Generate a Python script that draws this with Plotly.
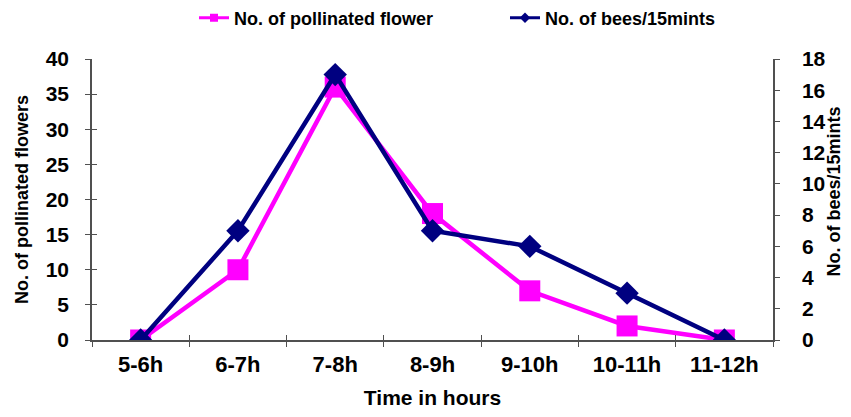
import plotly.graph_objects as go

categories = ["5-6h", "6-7h", "7-8h", "8-9h", "9-10h", "10-11h", "11-12h"]
pollinated = [0, 10, 36, 18, 7, 2, 0]
bees = [0, 7, 17, 7, 6, 3, 0]
left_ticks = [0, 5, 10, 15, 20, 25, 30, 35, 40]
right_ticks = [0, 2, 4, 6, 8, 10, 12, 14, 16, 18]

FONT = "Liberation Sans, Arial, sans-serif"
PINK = "#FF00FF"
NAVY = "#000080"
axis_col = "#505050"

# page body adds an 8px margin; keep the figure inside the window
W, H = 835, 401
L, R, T, B = 84, 70, 51, 69

fig = go.Figure()
fig.add_trace(go.Scatter(
    x=categories, y=pollinated, showlegend=False,
    mode="lines+markers", line=dict(color=PINK, width=4.5),
    marker=dict(symbol="square", size=21, color=PINK),
    xaxis="x", yaxis="y"))
fig.add_trace(go.Scatter(
    x=categories, y=bees, showlegend=False,
    mode="lines+markers", line=dict(color=NAVY, width=4.5),
    marker=dict(symbol="diamond", size=18, color=NAVY),
    xaxis="x", yaxis="y2"))
# legend entries with small markers
fig.add_trace(go.Scatter(
    x=[None], y=[None], name="No. of pollinated flower",
    mode="lines+markers", line=dict(color=PINK, width=3),
    marker=dict(symbol="square", size=8, color=PINK), yaxis="y"))
fig.add_trace(go.Scatter(
    x=[None], y=[None], name="No. of bees/15mints",
    mode="lines+markers", line=dict(color=NAVY, width=3),
    marker=dict(symbol="diamond", size=8, color=NAVY), yaxis="y2"))
# helper trace for inside tick marks (crossing ticks)
fig.add_trace(go.Scatter(
    x=categories, y=[None] * len(categories), showlegend=False, hoverinfo="skip",
    xaxis="x2", yaxis="y3"))

common = dict(showgrid=False, zeroline=False)
fig.update_layout(
    width=W, height=H,
    margin=dict(l=L, r=R, t=T, b=B, autoexpand=False),
    paper_bgcolor="white", plot_bgcolor="white",
    font=dict(family=FONT, color="black"),
    showlegend=True,
    legend=dict(orientation="h", xref="container", x=186 / W, xanchor="left",
                yref="container", y=1 - 10 / H, yanchor="middle",
                font=dict(size=18, family=FONT, weight="bold"),
                entrywidth=266, entrywidthmode="pixels", bgcolor="rgba(0,0,0,0)"),
    xaxis=dict(
        type="category", range=[-0.5, 6.5], tickson="boundaries",
        ticks="outside", ticklen=5, tickcolor=axis_col, tickwidth=1,
        showline=True, linecolor=axis_col, linewidth=1.5,
        tickfont=dict(size=22, family=FONT, weight="bold"),
        ticklabelstandoff=4,
        title=dict(text="Time in hours", font=dict(size=21, family=FONT, weight="bold"), standoff=15),
        **common),
    xaxis2=dict(
        type="category", range=[-0.5, 6.5], tickson="boundaries", overlaying="x",
        anchor="y3", side="bottom",
        ticks="inside", ticklen=5, tickcolor=axis_col, tickwidth=1,
        showticklabels=False, showline=False, **common),
    yaxis=dict(
        range=[0, 40], tickvals=left_ticks, ticks="outside", ticklen=5, tickcolor=axis_col,
        showline=True, linecolor=axis_col, linewidth=1.5,
        tickfont=dict(size=21, family=FONT, weight="bold"), ticklabelstandoff=12,
        title=dict(text="No. of pollinated flowers", font=dict(size=18, family=FONT, weight="bold"), standoff=12),
        **common),
    yaxis3=dict(
        range=[0, 40], tickvals=left_ticks, overlaying="y", side="left", anchor="x2",
        ticks="inside", ticklen=5, tickcolor=axis_col,
        showticklabels=False, showline=False, **common),
    yaxis2=dict(
        range=[0, 18], tickvals=right_ticks, overlaying="y", side="right", anchor="x",
        ticks="outside", ticklen=5, tickcolor=axis_col,
        showline=True, linecolor=axis_col, linewidth=1.5,
        tickfont=dict(size=21, family=FONT, weight="bold"), ticklabelstandoff=18,
        **common),
    annotations=[dict(
        text="No. of bees/15mints", textangle=-90, showarrow=False,
        xref="paper", x=1, xanchor="center", xshift=60,
        yref="paper", y=0.5, yanchor="middle", yshift=8,
        font=dict(size=18, family=FONT, weight="bold"))],
)

fig.write_html("out.html")
